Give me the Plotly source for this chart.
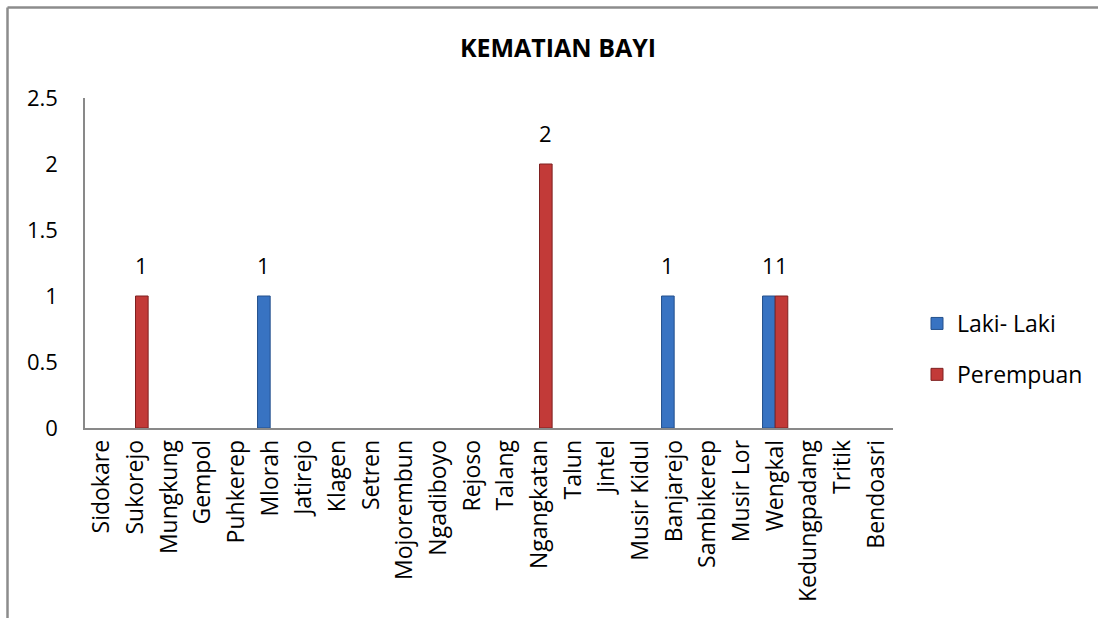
import plotly.graph_objects as go

categories = ["Sidokare", "Sukorejo", "Mungkung", "Gempol", "Puhkerep", "Mlorah",
              "Jatirejo", "Klagen", "Setren", "Mojorembun", "Ngadiboyo", "Rejoso",
              "Talang", "Ngangkatan", "Talun", "Jintel", "Musir Kidul", "Banjarejo",
              "Sambikerep", "Musir Lor", "Wengkal", "Kedungpadang", "Tritik", "Bendoasri"]

laki_laki = [None, None, None, None, None, 1, None, None, None, None, None, None,
             None, None, None, None, None, 1, None, None, 1, None, None, None]
perempuan = [None, 1, None, None, None, None, None, None, None, None, None, None,
             None, 2, None, None, None, None, None, None, 1, None, None, None]

y_ticks = [0, 0.5, 1, 1.5, 2, 2.5]
y_tick_labels = ["0", "0.5", "1", "1.5", "2", "2.5"]

FONT = "Open Sans"
W, H = 1098, 618
L, R, T, B = 85, 205, 98, 190
PW, PH = W - L - R, H - T - B
BARGAP = 0.25
BAR_PX = PW / len(categories) * (1 - BARGAP) / 2


def px_x(p):
    return (p - L) / PW


def px_y(p):
    return (H - B - p) / PH


fig = go.Figure()
fig.add_trace(go.Bar(
    x=categories, y=laki_laki, name="Laki- Laki",
    marker=dict(color="#3873C2", line=dict(color="#24508C", width=1)),
    legendgroup="a", hoverinfo="x+y",
))
fig.add_trace(go.Bar(
    x=categories, y=perempuan, name="Perempuan",
    marker=dict(color="#C23A38", line=dict(color="#7E2020", width=1)),
    legendgroup="b", hoverinfo="x+y",
))

annotations = []
for series, shift in ((laki_laki, -BAR_PX / 2), (perempuan, BAR_PX / 2)):
    for cat, v in zip(categories, series):
        if v is None:
            continue
        annotations.append(dict(
            x=cat, y=v, xref="x", yref="y", text=str(v), showarrow=False,
            xanchor="center", yanchor="bottom", xshift=shift, yshift=14,
            font=dict(family=FONT, size=22, color="#000000"),
        ))

fig.update_layout(
    width=W, height=H,
    margin=dict(l=L, r=R, t=T, b=B, autoexpand=False),
    paper_bgcolor="#ffffff", plot_bgcolor="#ffffff",
    barmode="group", bargap=BARGAP, bargroupgap=0,
    font=dict(family=FONT, size=22, color="#000000"),
    title=dict(text="<b>KEMATIAN BAYI</b>", x=558 / W, xanchor="center",
               y=1 - 48 / H, yanchor="middle",
               font=dict(family=FONT, size=25, color="#000000")),
    showlegend=True,
    legend=dict(x=px_x(917), xanchor="left", y=px_y(349), yanchor="middle",
                font=dict(family=FONT, size=23), traceorder="grouped",
                tracegroupgap=18, bgcolor="rgba(0,0,0,0)"),
    xaxis=dict(type="category", showgrid=False, showline=True,
               linecolor="#898989", linewidth=1.5, ticks="",
               tickangle=-90, ticklabelstandoff=1, automargin=False,
               tickfont=dict(family=FONT, size=23)),
    yaxis=dict(range=[0, 2.5], tickvals=y_ticks, ticktext=y_tick_labels,
               showgrid=False, zeroline=False, showline=True,
               linecolor="#898989", linewidth=1.5, ticks="",
               ticklabelstandoff=21, automargin=False,
               tickfont=dict(family=FONT, size=22)),
    annotations=annotations,
    shapes=[
        dict(type="line", xref="paper", yref="paper",
             x0=px_x(7.5), x1=px_x(1100), y0=px_y(7.5), y1=px_y(7.5),
             line=dict(color="#8c8c8c", width=2.5)),
        dict(type="line", xref="paper", yref="paper",
             x0=px_x(7.5), x1=px_x(7.5), y0=px_y(7.5), y1=px_y(620),
             line=dict(color="#8c8c8c", width=2.5)),
    ],
)

fig.write_html("out.html", config={"displayModeBar": False},
               post_script="document.body.style.margin='0';document.body.style.overflow='hidden';")
